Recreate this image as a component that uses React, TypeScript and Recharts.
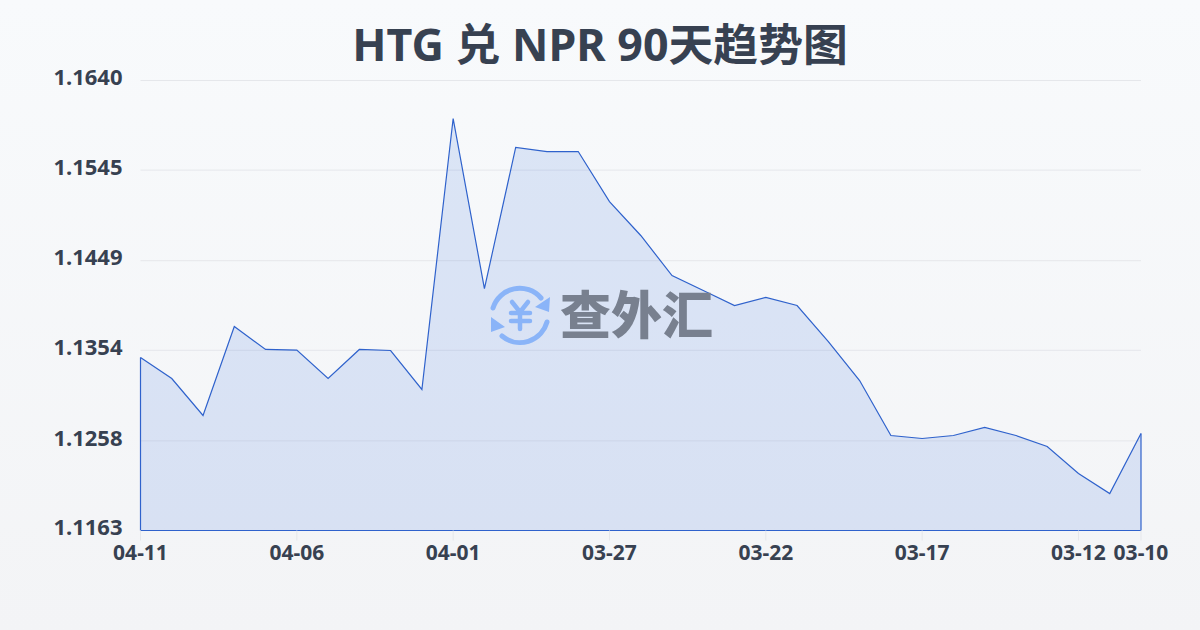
import { AreaChart, Area, XAxis, YAxis, CartesianGrid, ReferenceLine } from 'recharts'

const dates = [
  '04-11', '04-10', '04-09', '04-08', '04-07', '04-06', '04-05', '04-04', '04-03', '04-02', '04-01',
  '03-31', '03-30', '03-29', '03-28', '03-27', '03-26', '03-25', '03-24', '03-23', '03-22',
  '03-21', '03-20', '03-19', '03-18', '03-17', '03-16', '03-15', '03-14', '03-13', '03-12', '03-11', '03-10',
]
const rates = [
  1.13464, 1.13241, 1.12849, 1.13792, 1.13549, 1.13543, 1.13241, 1.13549, 1.13538, 1.13125, 1.15997,
  1.14195, 1.1569, 1.15647, 1.15647, 1.15117, 1.14757, 1.14333, 1.14174, 1.14015, 1.141,
  1.14015, 1.13633, 1.1322, 1.12637, 1.12605, 1.12637, 1.12722, 1.12637, 1.1252, 1.12234, 1.12022, 1.12658,
]
const xTicks = ['04-11', '04-06', '04-01', '03-27', '03-22', '03-17', '03-12', '03-10']
const yTicks = [1.1163, 1.1258, 1.1354, 1.1449, 1.1545, 1.164]

const data = dates.map((name, i) => ({ name, value: rates[i] }))

const FONT = '"Noto Sans", "Noto Sans CJK SC", sans-serif'
const LINE = '#2f62cc'
const TEXT = '#374151'

export default function App() {
  const first = data[0]
  const last = data[data.length - 1]
  return (
    <div
      style={{
        position: 'absolute',
        left: 0,
        top: 0,
        width: 1200,
        height: 630,
        overflow: 'hidden',
        fontFamily: FONT,
        background: 'linear-gradient(180deg, #f8fafc 0%, #f3f4f6 100%)',
      }}
    >
      <div
        style={{
          position: 'absolute',
          left: 0,
          top: 12,
          width: 1200,
          textAlign: 'center',
          fontSize: 44.8,
          lineHeight: '64px',
          fontWeight: 700,
          color: TEXT,
        }}
      >
        HTG 兑 NPR 90天趋势图
      </div>
      <AreaChart width={1200} height={630} data={data} margin={{ top: 80.5, right: 59, bottom: 0, left: 0.5 }} style={{ position: 'absolute', left: 0, top: 0 }}>
        <CartesianGrid vertical={false} stroke="#e5e7eb" strokeWidth={1} />
        <XAxis
          dataKey="name"
          ticks={xTicks}
          interval={0}
          height={99.5}
          axisLine={false}
          tickLine={{ stroke: '#e5e7eb' }}
          tickSize={10}
          tickMargin={5}
          tick={{ fill: TEXT, fontSize: 21, fontWeight: 700, fontFamily: FONT }}
        />
        <YAxis
          width={140}
          domain={[1.1163, 1.164]}
          ticks={yTicks}
          interval={0}
          allowDataOverflow
          axisLine={false}
          tickLine={false}
          tickMargin={12}
          tickFormatter={(v: number) => v.toFixed(4)}
          tick={{ fill: TEXT, fontSize: 22, fontWeight: 700, fontFamily: FONT, dy: -3 }}
        />
        <Area type="linear" dataKey="value" baseValue={1.1163} stroke={LINE} strokeWidth={1.2} fill="#3b6fe0" fillOpacity={0.15} dot={false} activeDot={false} isAnimationActive={false} />
        <ReferenceLine segment={[{ x: first.name, y: 1.1163 }, { x: first.name, y: first.value }]} stroke={LINE} strokeWidth={1.2} />
        <ReferenceLine segment={[{ x: last.name, y: 1.1163 }, { x: last.name, y: last.value }]} stroke={LINE} strokeWidth={1.2} />
        <ReferenceLine segment={[{ x: first.name, y: 1.1163 }, { x: last.name, y: 1.1163 }]} stroke={LINE} strokeWidth={1.2} />
      </AreaChart>
      {/* watermark logo */}
      <svg width={1200} height={630} style={{ position: 'absolute', left: 0, top: 0, pointerEvents: 'none' }}>
        <g fill="none" stroke="#8ab4f8" strokeWidth={5} strokeLinecap="round" strokeLinejoin="round">
          <path d="M493 308 A28 28 0 0 1 541 298" />
          <path d="M547 322 A28 28 0 0 1 502 336" />
          <path d="M512 302 L520 312 L528 302 M511 313 H530 M511 321 H530 M520 312 V329" strokeWidth={4.5} />
        </g>
        <path d="M550 297 L549 312 L535 307 Z M491 317 L491 332 L505 327 Z" fill="#8ab4f8" />
        <text x={560} y={334} fontSize={51} fontWeight={900} fill="#78808f" fontFamily={FONT}>
          查外汇
        </text>
      </svg>
    </div>
  )
}
